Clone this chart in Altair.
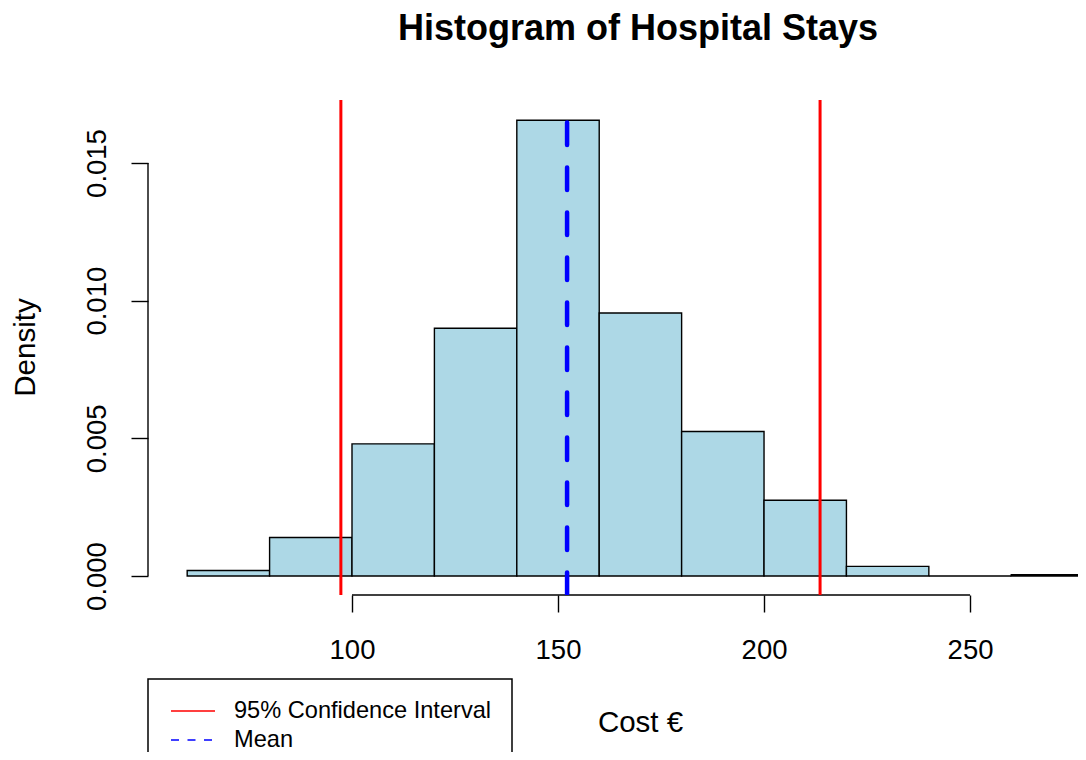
import altair as alt
import pandas as pd

# ---- data ----
bin_start = [60, 80, 100, 120, 140, 160, 180, 200, 220, 240, 260]
bin_end = [80, 100, 120, 140, 160, 180, 200, 220, 240, 260, 280]
density = [0.0002, 0.0014, 0.0048, 0.0090, 0.01655, 0.00955, 0.00525, 0.00275, 0.00035, 0.0, 0.00005]
ci_bounds = [97.3, 213.6]
mean_value = [152.2]
legend_labels = ["95% Confidence Interval", "Mean"]
x_ticks = [100, 150, 200, 250]
y_ticks = [0.0, 0.005, 0.010, 0.015]

FONT = "Liberation Sans"
W, H = 930, 495

xscale = alt.Scale(domain=[50.49, 276.2], nice=False, zero=False)
yscale = alt.Scale(domain=[-0.00069, 0.017288], nice=False, zero=False)

hist = pd.DataFrame({"start": bin_start, "end": bin_end, "density": density})
ci_df = pd.DataFrame({"x": ci_bounds, "type": [legend_labels[0]] * len(ci_bounds)})
mean_df = pd.DataFrame({"x": mean_value, "type": [legend_labels[1]]})
xaxis_df = pd.DataFrame({"a": [x_ticks[0]], "b": [x_ticks[-1]]})
yaxis_df = pd.DataFrame({"a": [y_ticks[0]], "b": [y_ticks[-1]]})

color_scale = alt.Scale(domain=legend_labels, range=["#FF0000", "#0000FF"])
dash_scale = alt.Scale(domain=legend_labels, range=[[1, 0], [8, 8.5]])

legend = alt.Legend(
    title=None,
    orient="none",
    legendX=0,
    legendY=579,
    symbolType="M-2,0H2",
    symbolSize=484,
    symbolStrokeWidth=1.5,
    symbolOffset=13,
    labelFont=FONT,
    labelFontSize=23.6,
    labelColor="black",
    labelOffset=29,
    labelLimit=0,
    padding=20,
    rowPadding=5,
    fillColor="white",
    strokeColor="black",
)

x_axis = alt.Axis(
    values=x_ticks, format="d", title="Cost €", grid=False, domain=False,
    tickSize=17, tickWidth=1.4, tickColor="black",
    labelFont=FONT, labelFontSize=27.5, labelColor="black", labelPadding=24,
    labelFlush=False, labelOverlap=False,
    titleFont=FONT, titleFontSize=29.5, titleFontWeight="normal", titleColor="black",
    titleX=492, titleY=136, titleAlign="center", titleBaseline="alphabetic",
)
y_axis = alt.Axis(
    values=y_ticks, format=".3f", title="Density", grid=False, domain=False,
    tickSize=17, tickWidth=1.4, tickColor="black",
    labelFont=FONT, labelFontSize=27.5, labelColor="black", labelPadding=26,
    labelAngle=270, labelAlign="center", labelBaseline="alphabetic",
    labelFlush=False, labelOverlap=False,
    titleFont=FONT, titleFontSize=29.5, titleFontWeight="normal", titleColor="black",
    titleAngle=270, titleX=-114, titleY=247, titleAlign="center", titleBaseline="alphabetic",
)

bars = alt.Chart(hist).mark_bar(
    fill="#ADD8E6", stroke="black", strokeWidth=1.4, clip=True
).encode(
    x=alt.X("start:Q", scale=xscale, axis=x_axis),
    x2="end:Q",
    y=alt.Y("density:Q", scale=yscale, axis=y_axis),
    y2=alt.datum(0),
)

xaxis_line = alt.Chart(xaxis_df).mark_rule(color="black", strokeWidth=1.4).encode(
    x=alt.X("a:Q", scale=xscale, axis=x_axis),
    x2="b:Q",
    y=alt.value(H),
)

yaxis_line = alt.Chart(yaxis_df).mark_rule(color="black", strokeWidth=1.4).encode(
    y=alt.Y("a:Q", scale=yscale, axis=y_axis),
    y2="b:Q",
    x=alt.value(0),
)

ci_rules = alt.Chart(ci_df).mark_rule(strokeWidth=3, clip=True).encode(
    x=alt.X("x:Q", scale=xscale, axis=x_axis),
    color=alt.Color("type:N", scale=color_scale, legend=legend),
    strokeDash=alt.StrokeDash("type:N", scale=dash_scale, legend=legend),
)

mean_rule = alt.Chart(mean_df).mark_rule(
    strokeWidth=4.5, strokeDash=[22.5, 22.5], strokeDashOffset=22.5, strokeCap="round", clip=True
).encode(
    x=alt.X("x:Q", scale=xscale, axis=x_axis),
    color=alt.Color("type:N", scale=color_scale, legend=legend),
)

chart = alt.layer(bars, xaxis_line, yaxis_line, ci_rules, mean_rule).properties(
    width=W,
    height=H,
    title=alt.TitleParams(
        "Histogram of Hospital Stays",
        font=FONT, fontSize=36, fontWeight="bold", color="black",
        anchor="middle", frame="group", dx=25, offset=24, baseline="alphabetic",
    ),
    autosize=alt.AutoSizeParams(type="none"),
    padding={"left": 140, "top": 92, "right": 0, "bottom": 157},
    background="white",
).configure_view(stroke=None).configure_legend(strokeWidth=1.5)

chart.save("out.html", embed_options={"renderer": "svg", "actions": False})
